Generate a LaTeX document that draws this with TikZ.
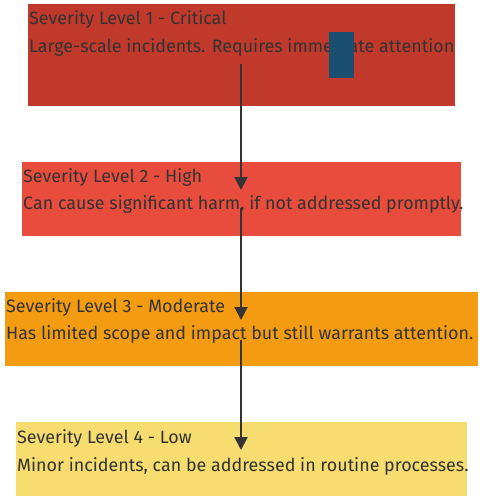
\documentclass[tikz,border=0pt]{standalone}
\usepackage{fontspec}
\setmainfont{Fira Sans}
\usetikzlibrary{arrows.meta}
\definecolor{crit}{HTML}{C0392B}
\definecolor{high}{HTML}{E74C3C}
\definecolor{mod}{HTML}{F39C12}
\definecolor{low}{HTML}{F7DC6F}
\definecolor{ink}{HTML}{333333}
\definecolor{blk}{HTML}{1B4F72}
\tikzset{
  box/.style={draw=none, inner sep=0pt, anchor=north west},
  txt/.style={anchor=base west, inner sep=0pt, text=ink, font=\fontsize{17.9}{20}\selectfont},
  flow/.style={draw=ink, line width=2pt, -{Triangle[width=13pt,length=13pt]}}
}
\begin{document}
\begin{tikzpicture}[x=1pt,y=-1pt]
\useasboundingbox (0,0) rectangle (482,500);
% boxes
\node[box, fill=crit, minimum width=427pt, minimum height=102pt] (b1) at (28,4) {};
\node[box, fill=high, minimum width=439pt, minimum height=74pt] (b2) at (22,162) {};
\node[box, fill=mod, minimum width=473pt, minimum height=74pt] (b3) at (5,292) {};
\node[box, fill=low, minimum width=451pt, minimum height=74pt] (b4) at (16,422) {};
% texts
\node[txt] (t1a) at (29,25) {Severity Level 1 - Critical};
\node[txt] (t1b) at (29,53) {Large-scale incidents. Requires immediate attention};
\node[txt] (t2a) at (23,182) {Severity Level 2 - High};
\node[txt] (t2b) at (23,209) {Can cause significant harm, if not addressed promptly.};
\node[txt] (t3a) at (6,312) {Severity Level 3 - Moderate};
\node[txt] (t3b) at (6,339) {Has limited scope and impact but still warrants attention.};
\node[txt] (t4a) at (17,443) {Severity Level 4 - Low};
\node[txt] (t4b) at (17,471) {Minor incidents, can be addressed in routine processes.};
% blue block
\node[box, fill=blk, minimum width=25pt, minimum height=46pt] (blue) at (329,32) {};
% connector points
\coordinate (s1) at (241,64);
\coordinate (e1) at (241,190);
\coordinate (s2) at (241,208);
\coordinate (e2) at (241,320);
\coordinate (s3) at (241,340);
\coordinate (e3) at (241,450);
\draw[flow] (s1) -- (e1);
\draw[flow] (s2) -- (e2);
\draw[flow] (s3) -- (e3);
\end{tikzpicture}
\end{document}
